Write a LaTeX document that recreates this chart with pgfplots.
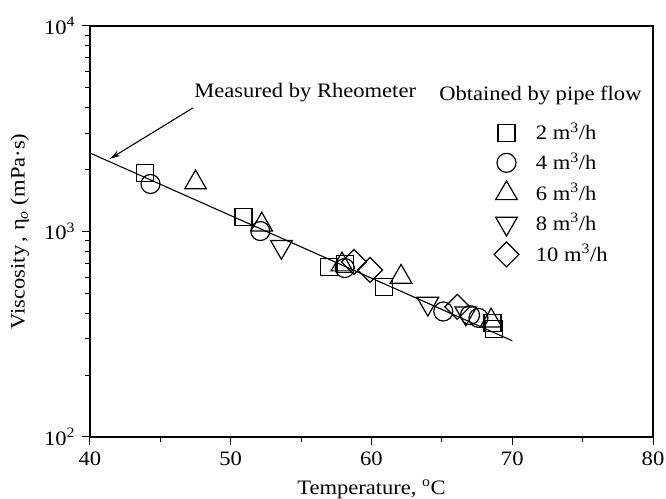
\documentclass[border=0pt]{standalone}
\usepackage{fontspec}
\setmainfont{Liberation Serif}[FakeStretch=1.1]
\usepackage{pgfplots}
\pgfplotsset{compat=1.18}
\usetikzlibrary{arrows.meta}
\begin{document}
\fontsize{20.5}{24}\selectfont
\begin{tikzpicture}
\begin{axis}[
  scale only axis,
  width=563pt, height=411pt,
  xmin=40, xmax=80,
  ymode=log, ymin=100, ymax=10000,
  xtick={40,50,60,70,80},
  xticklabels={40,50,60,70,80},
  minor x tick num=1,
  ytick={100,1000,10000},
  yticklabels={10\textsuperscript{2},10\textsuperscript{3},10\textsuperscript{4}},
  xtick pos=bottom, ytick pos=left,
  tick align=outside,
  major tick length=8pt, minor tick length=5pt,
  every tick/.style={black, line width=1pt},
  axis line style={line width=1.2pt},
  ticklabel style={font=\fontsize{20.5}{24}\selectfont},
  label style={font=\fontsize{20.5}{24}\selectfont},
  xlabel={Temperature, \textsuperscript{o}C},
  ylabel={Viscosity\,, η\textsubscript{\textit{o}} (mPa·s)},
  xlabel style={yshift=0pt},
  ylabel style={yshift=1pt},
  clip=false,
  legend cell align=left,
  legend style={draw=none, fill=none, at={(rel axis cs:0.712,0.775)}, anchor=north west,
    font=\fontsize{20.5}{24}\selectfont, row sep=6pt, column sep=15pt},
  every axis plot/.append style={line width=1.2pt},
]
\coordinate (bl) at (rel axis cs:0,0);
\coordinate (tr) at (rel axis cs:1,1);
% rheometer line
\addplot[black, line width=1.1pt, no marks, forget plot] coordinates {(40,2410) (70,294)};
% 2 m3/h
\addplot[only marks, black, mark=square, mark size=8.5pt] coordinates {
(43.9,1927) (50.9,1177) (57.0,672) (58.1,695) (60.9,537) (68.6,360) (68.7,336)};
\addlegendentry{2 m\textsuperscript{3}/h}
% 4 m3/h
\addplot[only marks, black, mark=o, mark size=9.5pt] coordinates {
(44.3,1703) (52.1,1005) (58.1,664) (65.1,408) (67.0,392) (67.6,380)};
\addlegendentry{4 m\textsuperscript{3}/h}
% 6 m3/h
\addplot[only marks, black, mark=triangle, mark size=12.5pt] coordinates {
(47.5,1730) (52.2,1078) (57.9,690) (62.1,601) (68.5,368)};
\addlegendentry{6 m\textsuperscript{3}/h}
% 8 m3/h
\addplot[only marks, black, mark=triangle, mark options={rotate=180}, mark size=12.5pt] coordinates {
(53.6,843) (64.0,446) (66.7,400)};
\addlegendentry{8 m\textsuperscript{3}/h}
% 10 m3/h
\addplot[only marks, black, mark=square, mark options={rotate=45}, mark size=8.8pt] coordinates {
(58.75,711) (59.9,650) (66.1,430)};
\addlegendentry{10 m\textsuperscript{3}/h}
% annotations
\draw[-{Stealth[length=11pt,width=6pt]}, line width=1.1pt] (axis cs:47.3,3990) -- (axis cs:41.4,2255);
\node[anchor=west, inner sep=0pt] at (axis cs:47.4,4720) {Measured by Rheometer};
\node[inner sep=0pt] at (axis cs:72.0,4614) {Obtained by pipe flow};
\end{axis}
\pgfresetboundingbox
\path[use as bounding box] ([shift={(-90pt,-61pt)}]bl) rectangle ([shift={(13pt,26pt)}]tr);
\end{tikzpicture}
\end{document}
